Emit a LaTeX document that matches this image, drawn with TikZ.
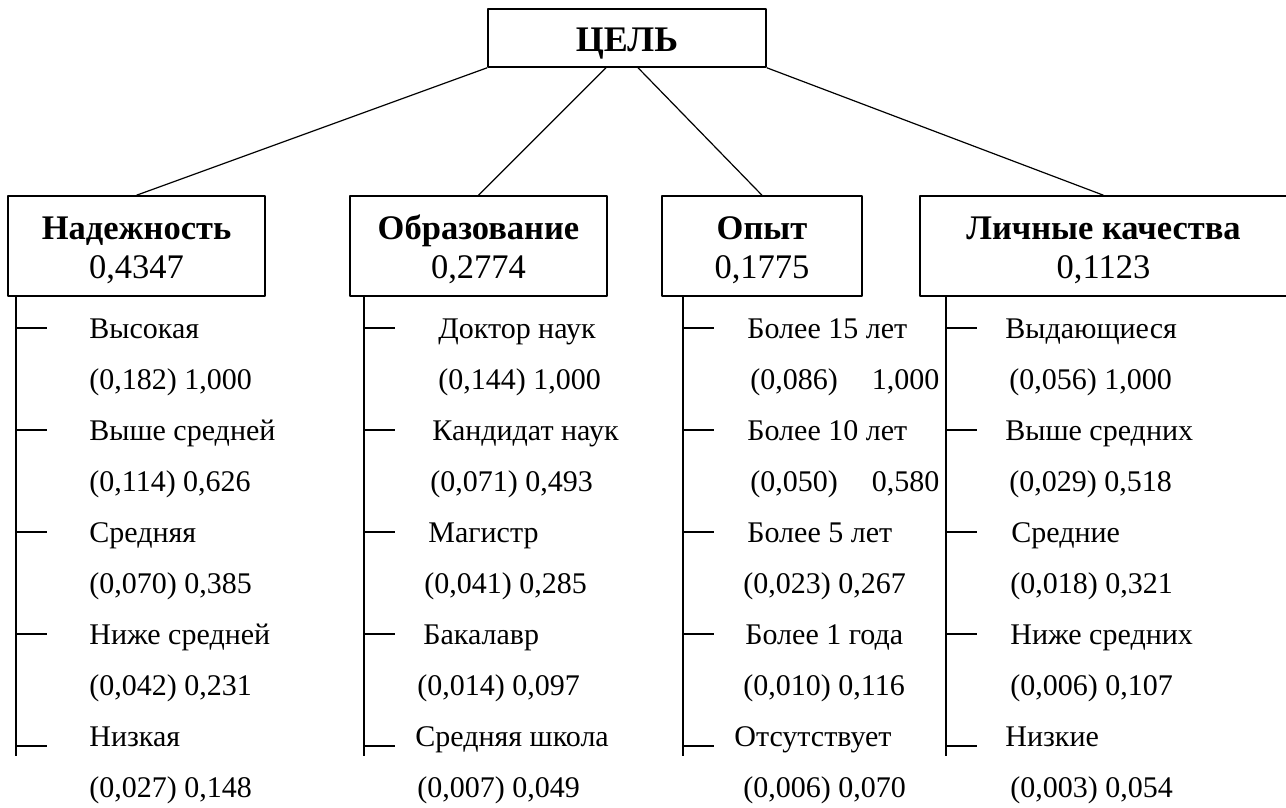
\documentclass[tikz,border=0pt]{standalone}
\usepackage{fontspec}
\setmainfont{Liberation Serif}
\newcommand{\crittext}[2]{\rule{0pt}{16pt}\textbf{#1}\\#2}
\tikzset{
  crit/.style={draw, line width=0.75pt, inner sep=0pt, align=center, minimum height=50pt, font=\fontsize{17.25}{19.5}\selectfont},
  alt/.style={anchor=base west, inner sep=0pt, font=\fontsize{15}{18}\selectfont},
  link/.style={line width=0.6pt},
  spine/.style={line width=0.8pt}
}
\begin{document}
\begin{tikzpicture}[line join=round,x=0.5pt,y=-0.5pt]
			\useasboundingbox (0,0) rectangle (1286,808);
			% goal and criteria
			\node[crit, minimum width=139pt, minimum height=29pt, font=\fontsize{18}{20}\selectfont] (goal) at (627,38) {\raisebox{-3pt}[\height][\depth]{\textbf{ЦЕЛЬ}}};
			\node[crit, minimum width=128.5pt] (nad) at (136.5,246) {\crittext{Надежность}{0,4347}};
			\node[crit, minimum width=128.5pt] (obr) at (478.5,246) {\crittext{Образование}{0,2774}};
			\node[crit, minimum width=100pt] (opyt) at (762,246) {\crittext{Опыт}{0,1775}};
			\node[crit, minimum width=183.5pt] (lich) at (1103.5,246) {\crittext{Личные качества}{0,1123}};
			\draw [link] (goal.south west) -- (nad.north);
			\draw [link] ([xshift=-10.5pt]goal.south) -- (obr.north);
			\draw [link] ([xshift=5.5pt]goal.south) -- (opyt.north);
			\draw [link] (goal.south east) -- (lich.north);
			% spines
			\draw [spine] ([xshift=4.5pt]nad.south west) -- ++(0,459);
			\draw [spine] ([xshift=7.5pt]obr.south west) -- ++(0,459);
			\draw [spine] ([xshift=11pt]opyt.south west) -- ++(0,459);
			\draw [spine] ([xshift=13.5pt]lich.south west) -- ++(0,459);
			\foreach \x in {17,365,684,947}
			\foreach \y in {328,430,532,634,746}
			\draw [spine] (\x,\y) -- ++(30,0);
			% alternatives
			\node[alt] (nad1) at (89,338) {Высокая};
			\node[alt] (nad2) at (89,389) {(0,182) 1,000};
			\node[alt] (nad3) at (89,440) {Выше средней};
			\node[alt] (nad4) at (89,491) {(0,114) 0,626};
			\node[alt] (nad5) at (89,542) {Средняя};
			\node[alt] (nad6) at (89,593) {(0,070) 0,385};
			\node[alt] (nad7) at (89,644) {Ниже средней};
			\node[alt] (nad8) at (89,695) {(0,042) 0,231};
			\node[alt] (nad9) at (89,746) {Низкая};
			\node[alt] (nad10) at (89,797) {(0,027) 0,148};
			\node[alt] (obr1) at (438,338) {Доктор наук};
			\node[alt] (obr2) at (438,389) {(0,144) 1,000};
			\node[alt] (obr3) at (432,440) {Кандидат наук};
			\node[alt] (obr4) at (430,491) {(0,071) 0,493};
			\node[alt] (obr5) at (428,542) {Магистр};
			\node[alt] (obr6) at (424,593) {(0,041) 0,285};
			\node[alt] (obr7) at (423,644) {Бакалавр};
			\node[alt] (obr8) at (417,695) {(0,014) 0,097};
			\node[alt] (obr9) at (415,746) {Средняя школа};
			\node[alt] (obr10) at (417,797) {(0,007) 0,049};
			\node[alt] (opyt1) at (747,338) {Более 15 лет};
			\node[alt] (opyt2) at (750,389) {\makebox[94.5pt][s]{(0,086)\hfill 1,000}};
			\node[alt] (opyt3) at (747,440) {Более 10 лет};
			\node[alt] (opyt4) at (750,491) {\makebox[94.5pt][s]{(0,050)\hfill 0,580}};
			\node[alt] (opyt5) at (747,542) {Более 5 лет};
			\node[alt] (opyt6) at (743,593) {(0,023) 0,267};
			\node[alt] (opyt7) at (745,644) {Более 1 года};
			\node[alt] (opyt8) at (743,695) {(0,010) 0,116};
			\node[alt] (opyt9) at (734,746) {Отсутствует};
			\node[alt] (opyt10) at (743,797) {(0,006) 0,070};
			\node[alt] (lich1) at (1005,338) {Выдающиеся};
			\node[alt] (lich2) at (1009,389) {(0,056) 1,000};
			\node[alt] (lich3) at (1005,440) {Выше средних};
			\node[alt] (lich4) at (1009,491) {(0,029) 0,518};
			\node[alt] (lich5) at (1011,542) {Средние};
			\node[alt] (lich6) at (1010,593) {(0,018) 0,321};
			\node[alt] (lich7) at (1010,644) {Ниже средних};
			\node[alt] (lich8) at (1010,695) {(0,006) 0,107};
			\node[alt] (lich9) at (1005,746) {Низкие};
			\node[alt] (lich10) at (1010,797) {(0,003) 0,054};
\end{tikzpicture}
\end{document}
